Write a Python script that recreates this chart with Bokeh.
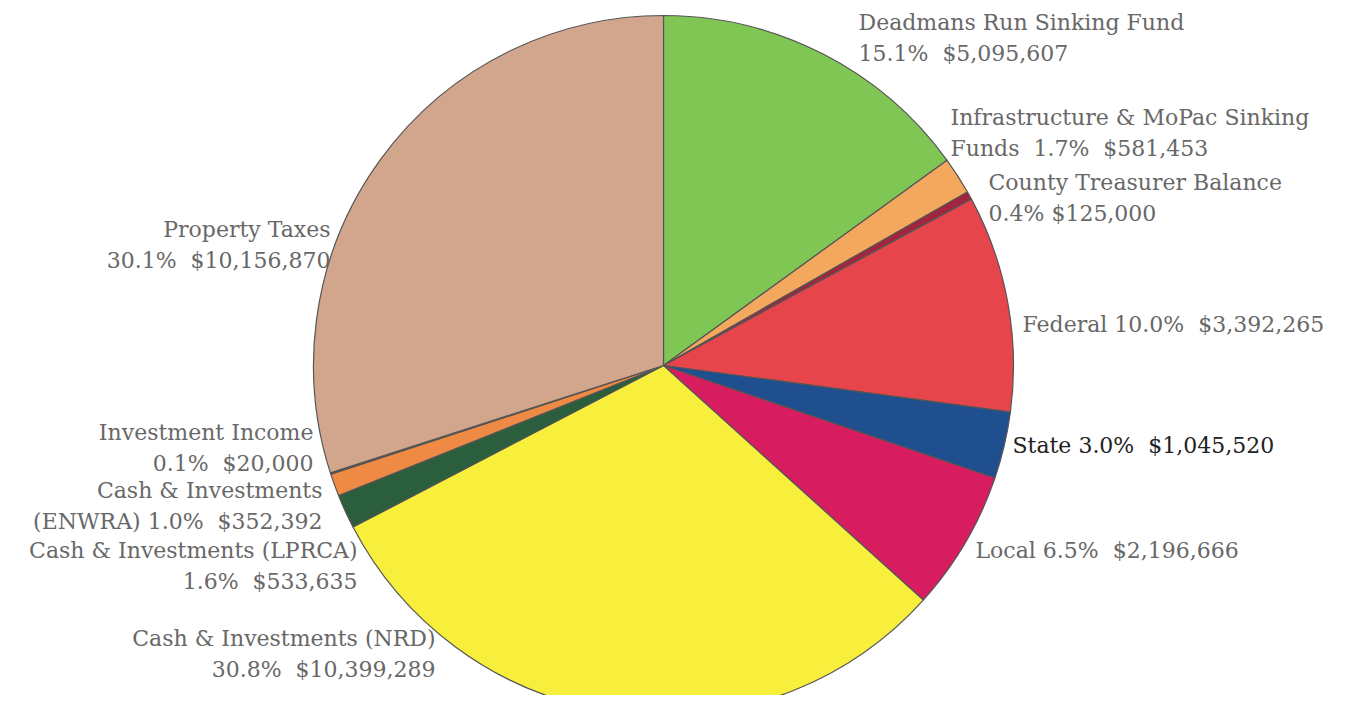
import numpy as np
from bokeh.plotting import figure
from bokeh.models import ColumnDataSource, Range1d
from bokeh.core.properties import value
from bokeh.embed import file_html
from bokeh.resources import INLINE

# ---- data (clockwise from 12 o'clock) ----
categories = ["Deadmans Run Sinking Fund", "Infrastructure & MoPac Sinking Funds",
              "County Treasurer Balance", "Federal", "State", "Local",
              "Cash & Investments (NRD)", "Cash & Investments (LPRCA)",
              "Cash & Investments (ENWRA)", "Investment Income", "Property Taxes"]
amounts = [5095607, 581453, 125000, 3392265, 1045520, 2196666,
           10399289, 533635, 352392, 20000, 10156870]
percent_labels = ["15.1%", "1.7%", "0.4%", "10.0%", "3.0%", "6.5%",
                  "30.8%", "1.6%", "1.0%", "0.1%", "30.1%"]
amount_labels = ["$5,095,607", "$581,453", "$125,000", "$3,392,265", "$1,045,520",
                 "$2,196,666", "$10,399,289", "$533,635", "$352,392", "$20,000",
                 "$10,156,870"]
colors = ["#80c655", "#f4a85e", "#a3243f", "#e6464b", "#1f4f8f", "#d71d5f",
          "#f7ef3c", "#2a5e3c", "#ee8a43", "#5a3a2a", "#d2a68c"]

# ---- layout ----
W, H = 1334, 695
FONT = "DejaVu Serif"
TXT = "#686868"
SP = "\u00a0 "  # double space that survives SVG whitespace collapsing

def Y(sy):  # screen y -> data y
    return 711 - sy

p = figure(width=W, height=H, output_backend="svg", toolbar_location=None,
           x_range=Range1d(0, W), y_range=Range1d(711 - H, 711),
           min_border=0)
p.axis.visible = False
p.grid.visible = False
p.outline_line_color = None
p.background_fill_color = "white"
p.border_fill_color = "white"

vals = np.array(amounts, dtype=float)
frac = vals / vals.sum()
cum = np.concatenate([[0.0], np.cumsum(frac)])
start = np.pi / 2 - cum[:-1] * 2 * np.pi
end = np.pi / 2 - cum[1:] * 2 * np.pi

src = ColumnDataSource(dict(x=[663] * len(vals), y=[Y(365)] * len(vals),
                            start=start, end=end, color=colors, cat=categories))
p.wedge(x="x", y="y", radius=350, radius_units="screen",
        start_angle="start", end_angle="end", direction="clock",
        fill_color="color", line_color="#555555", line_width=1.2, source=src)

# ---- labels: (lines, anchor x, first line screen y, align, color) ----
labels = [
    ([categories[0], f"{percent_labels[0]}{SP}{amount_labels[0]}"], 858, 22, "left", TXT),
    (["Infrastructure & MoPac Sinking", f"Funds{SP}{percent_labels[1]}{SP}{amount_labels[1]}"], 950, 117, "left", TXT),
    ([categories[2], f"{percent_labels[2]} {amount_labels[2]}"], 988, 182, "left", TXT),
    ([f"{categories[3]} {percent_labels[3]}{SP}{amount_labels[3]}"], 1022, 324, "left", TXT),
    ([f"{categories[4]} {percent_labels[4]}{SP}{amount_labels[4]}"], 1012, 445, "left", "#222222"),
    ([f"{categories[5]} {percent_labels[5]}{SP}{amount_labels[5]}"], 975, 550, "left", TXT),
    ([categories[6], f"{percent_labels[6]}{SP}{amount_labels[6]}"], 435, 638, "right", TXT),
    ([categories[7], f"{percent_labels[7]}{SP}{amount_labels[7]}"], 357, 550, "right", TXT),
    (["Cash & Investments", f"(ENWRA) {percent_labels[8]}{SP}{amount_labels[8]}"], 322, 490, "right", TXT),
    ([categories[9], f"{percent_labels[9]}{SP}{amount_labels[9]}"], 313, 432, "right", TXT),
    ([categories[10], f"{percent_labels[10]}{SP}{amount_labels[10]}"], 330, 229, "right", TXT),
]

for lines, ax, ay, align, col in labels:
    xs, ys = [], []
    for i, ln in enumerate(lines):
        xs.append(ax)
        ys.append(Y(ay + i * 31))
    p.text(x=xs, y=ys, text=lines, text_align=align, text_baseline="middle",
           text_font=value(FONT), text_font_size="22px", text_color=col)

open("out.html", "w").write(file_html(p, INLINE))
